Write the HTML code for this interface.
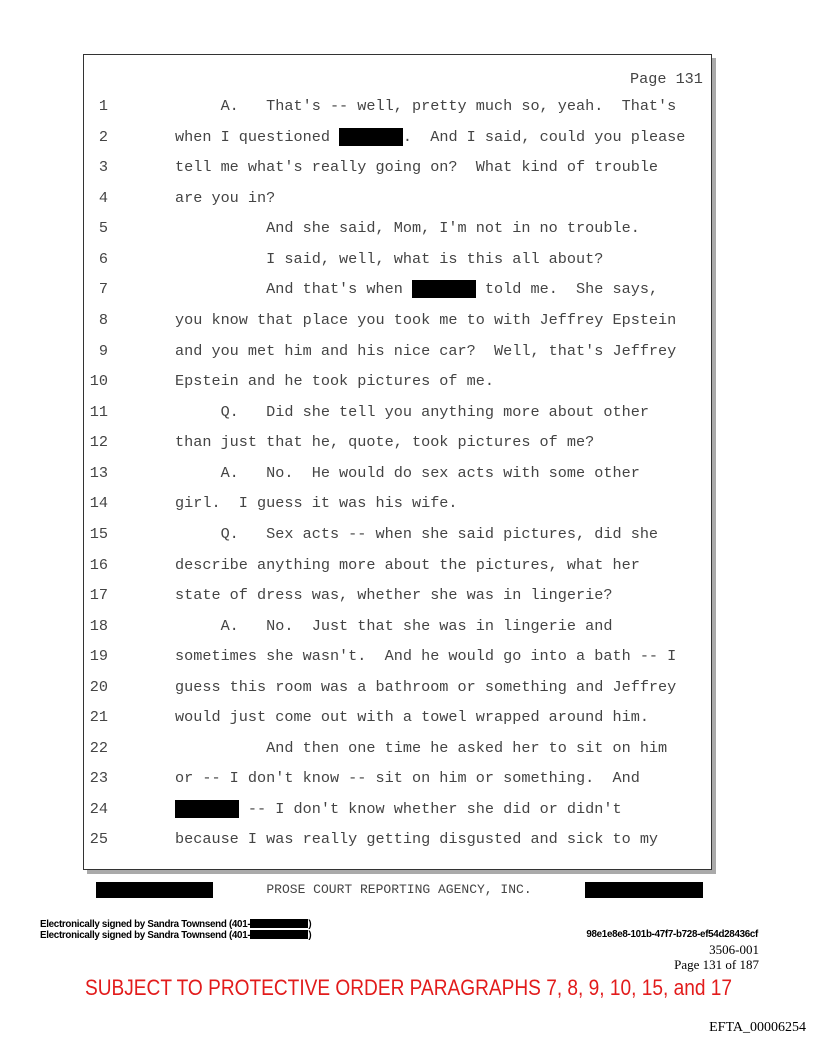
<!DOCTYPE html>
<html><head><meta charset="utf-8"><style>
body{margin:0;width:816px;height:1056px;background:#fff;position:relative;overflow:hidden}
.box{position:absolute;left:83px;top:54px;width:627px;height:814px;border:1px solid #333;box-shadow:4px 4px 0 #aaa;background:#fff}
.l{position:absolute;font-family:"Liberation Mono",monospace;font-size:15.2px;color:#444;white-space:pre;line-height:18px}
.n{position:absolute;left:84px;width:24px;text-align:right;font-family:"Liberation Mono",monospace;font-size:15.2px;color:#444;line-height:18px}
.r{background:#000}
.blk{position:absolute;background:#000}
</style></head><body>
<div class="box"></div>
<div class="l" style="left:630px;top:70px">Page 131</div>
<div class="n" style="top:97px">1</div><div class="l" style="left:175px;top:97px">     A.   That's -- well, pretty much so, yeah.  That's</div>
<div class="n" style="top:128px">2</div><div class="l" style="left:175px;top:128px">when I questioned <span class="r">       </span>.  And I said, could you please</div>
<div class="n" style="top:158px">3</div><div class="l" style="left:175px;top:158px">tell me what's really going on?  What kind of trouble</div>
<div class="n" style="top:189px">4</div><div class="l" style="left:175px;top:189px">are you in?</div>
<div class="n" style="top:219px">5</div><div class="l" style="left:175px;top:219px">          And she said, Mom, I'm not in no trouble.</div>
<div class="n" style="top:250px">6</div><div class="l" style="left:175px;top:250px">          I said, well, what is this all about?</div>
<div class="n" style="top:280px">7</div><div class="l" style="left:175px;top:280px">          And that's when <span class="r">       </span> told me.  She says,</div>
<div class="n" style="top:311px">8</div><div class="l" style="left:175px;top:311px">you know that place you took me to with Jeffrey Epstein</div>
<div class="n" style="top:342px">9</div><div class="l" style="left:175px;top:342px">and you met him and his nice car?  Well, that's Jeffrey</div>
<div class="n" style="top:372px">10</div><div class="l" style="left:175px;top:372px">Epstein and he took pictures of me.</div>
<div class="n" style="top:403px">11</div><div class="l" style="left:175px;top:403px">     Q.   Did she tell you anything more about other</div>
<div class="n" style="top:433px">12</div><div class="l" style="left:175px;top:433px">than just that he, quote, took pictures of me?</div>
<div class="n" style="top:464px">13</div><div class="l" style="left:175px;top:464px">     A.   No.  He would do sex acts with some other</div>
<div class="n" style="top:494px">14</div><div class="l" style="left:175px;top:494px">girl.  I guess it was his wife.</div>
<div class="n" style="top:525px">15</div><div class="l" style="left:175px;top:525px">     Q.   Sex acts -- when she said pictures, did she</div>
<div class="n" style="top:556px">16</div><div class="l" style="left:175px;top:556px">describe anything more about the pictures, what her</div>
<div class="n" style="top:586px">17</div><div class="l" style="left:175px;top:586px">state of dress was, whether she was in lingerie?</div>
<div class="n" style="top:617px">18</div><div class="l" style="left:175px;top:617px">     A.   No.  Just that she was in lingerie and</div>
<div class="n" style="top:647px">19</div><div class="l" style="left:175px;top:647px">sometimes she wasn't.  And he would go into a bath -- I</div>
<div class="n" style="top:678px">20</div><div class="l" style="left:175px;top:678px">guess this room was a bathroom or something and Jeffrey</div>
<div class="n" style="top:708px">21</div><div class="l" style="left:175px;top:708px">would just come out with a towel wrapped around him.</div>
<div class="n" style="top:739px">22</div><div class="l" style="left:175px;top:739px">          And then one time he asked her to sit on him</div>
<div class="n" style="top:769px">23</div><div class="l" style="left:175px;top:769px">or -- I don't know -- sit on him or something.  And</div>
<div class="n" style="top:800px">24</div><div class="l" style="left:175px;top:800px"><span class="r">       </span> -- I don't know whether she did or didn't</div>
<div class="n" style="top:830px">25</div><div class="l" style="left:175px;top:830px">because I was really getting disgusted and sick to my</div>

<div class="blk" style="left:96px;top:882px;width:117px;height:16px"></div>
<div class="blk" style="left:585px;top:882px;width:118px;height:16px"></div>
<div style="position:absolute;left:0;width:798px;top:882px;text-align:center;font-family:'Liberation Mono',monospace;font-size:13px;color:#444">PROSE COURT REPORTING AGENCY, INC.</div>

<div style="position:absolute;left:40px;top:919px;font-family:'Liberation Sans',sans-serif;font-weight:bold;font-size:9.8px;line-height:10px;letter-spacing:-0.3px">Electronically signed by Sandra Townsend (401-<span class="r" style="display:inline-block;width:58px;height:9px;vertical-align:-1px"></span>)<br>Electronically signed by Sandra Townsend (401-<span class="r" style="display:inline-block;width:58px;height:9px;vertical-align:-1px"></span>)</div>
<div style="position:absolute;right:58px;top:929px;font-family:'Liberation Sans',sans-serif;font-weight:bold;font-size:9.8px;letter-spacing:-0.3px">98e1e8e8-101b-47f7-b728-ef54d28436cf</div>
<div style="position:absolute;right:57px;top:942px;font-family:'Liberation Serif',serif;font-size:13px;text-align:right;line-height:15px">3506-001<br>Page 131 of 187</div>
<svg style="position:absolute;left:0;top:970px" width="816" height="30"><text x="85" y="25" textLength="647" lengthAdjust="spacingAndGlyphs" font-family="Liberation Sans, sans-serif" font-size="22" fill="#e21b1b">SUBJECT TO PROTECTIVE ORDER PARAGRAPHS 7, 8, 9, 10, 15, and 17</text></svg>
<div style="position:absolute;right:10px;top:1020px;font-family:'Liberation Serif',serif;font-size:14px">EFTA_00006254</div>
</body></html>
